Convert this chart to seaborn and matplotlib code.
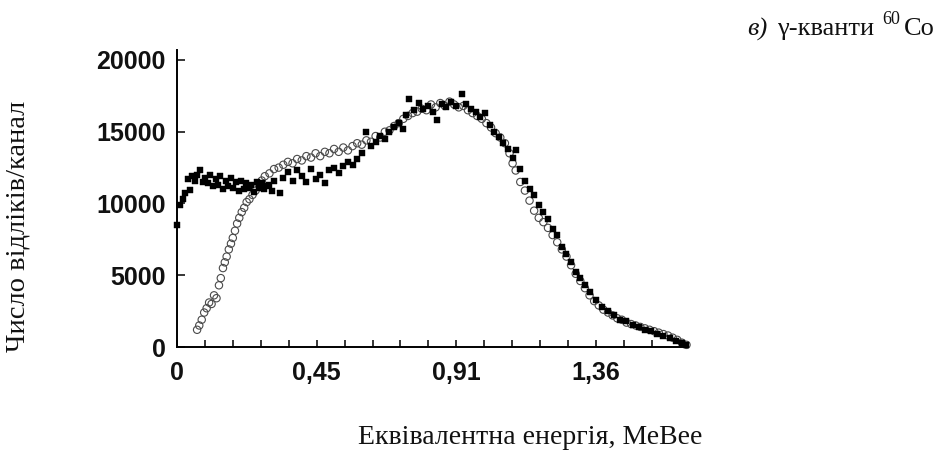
import numpy as np
import pandas as pd
import matplotlib
matplotlib.use('Agg')
import matplotlib.pyplot as plt
import seaborn as sns

# filled squares
sq_x = [0.000, 0.008, 0.018, 0.026, 0.034, 0.042, 0.050, 0.058, 0.066, 0.075,
        0.083, 0.091, 0.100, 0.108, 0.116, 0.125, 0.133, 0.141, 0.150, 0.158,
        0.166, 0.175, 0.183, 0.191, 0.200, 0.208, 0.216, 0.225, 0.233, 0.241,
        0.250, 0.258, 0.266, 0.275, 0.283, 0.291, 0.300, 0.308, 0.316, 0.333,
        0.345, 0.360, 0.375, 0.390, 0.405, 0.420, 0.435, 0.450, 0.465, 0.480,
        0.495, 0.510, 0.525, 0.540, 0.555, 0.570, 0.585, 0.600, 0.615, 0.630,
        0.645, 0.660, 0.675, 0.690, 0.705, 0.720, 0.735, 0.745, 0.755, 0.770,
        0.785, 0.800, 0.815, 0.830, 0.845, 0.860, 0.875, 0.890, 0.905, 0.925,
        0.940, 0.955, 0.970, 0.985, 1.000, 1.015, 1.030, 1.045, 1.060, 1.075,
        1.090, 1.100, 1.115, 1.130, 1.145, 1.160, 1.175, 1.190, 1.205, 1.220,
        1.235, 1.250, 1.265, 1.280, 1.295, 1.310, 1.325, 1.340, 1.360, 1.380,
        1.400, 1.420, 1.440, 1.460, 1.480, 1.500, 1.520, 1.540, 1.560, 1.580,
        1.600, 1.620, 1.640, 1.655]
sq_y = [8500, 9900, 10300, 10700, 11700, 10950, 11900, 11600, 12000, 12300,
        11500, 11800, 11400, 12000, 11200, 11700, 11300, 11900, 11000, 11600,
        11200, 11800, 11100, 11500, 10900, 11600, 11000, 11400, 11100, 11300,
        10800, 11500, 11100, 11400, 11000, 11200, 11300, 10900, 11600, 10700,
        11800, 12200, 11600, 12300, 11900, 11500, 12400, 11700, 12000, 11400,
        12300, 12500, 12100, 12600, 12900, 12700, 13100, 13500, 15000, 14000,
        14300, 14700, 14500, 15000, 15300, 15600, 15200, 16200, 17300, 16500,
        17000, 16600, 16800, 16400, 15800, 16900, 16700, 17100, 16800, 17600,
        16900, 16600, 16400, 16000, 16300, 15500, 15000, 14600, 14200, 13800,
        13200, 13700, 12400, 11600, 11000, 10600, 9900, 9400, 8900, 8200,
        7800, 7000, 6500, 5900, 5200, 4800, 4300, 3800, 3300, 2800,
        2500, 2200, 1900, 1800, 1500, 1400, 1200, 1100, 900, 800,
        600, 400, 250, 150]

# open circles
ci_x = [0.065, 0.072, 0.080, 0.088, 0.096, 0.104, 0.112, 0.120, 0.128, 0.136,
        0.142, 0.149, 0.155, 0.161, 0.168, 0.175, 0.181, 0.188, 0.195, 0.202,
        0.210, 0.218, 0.226, 0.235, 0.245, 0.255, 0.265, 0.275, 0.285, 0.300,
        0.315, 0.330, 0.345, 0.360, 0.375, 0.390, 0.405, 0.420, 0.435, 0.450,
        0.465, 0.480, 0.495, 0.510, 0.525, 0.540, 0.555, 0.570, 0.585, 0.600,
        0.615, 0.630, 0.645, 0.660, 0.675, 0.690, 0.705, 0.720, 0.735, 0.750,
        0.765, 0.780, 0.795, 0.810, 0.825, 0.840, 0.855, 0.870, 0.885, 0.900,
        0.915, 0.930, 0.945, 0.960, 0.975, 0.990, 1.005, 1.020, 1.035, 1.050,
        1.065, 1.080, 1.090, 1.100, 1.115, 1.130, 1.145, 1.160, 1.175, 1.190,
        1.205, 1.220, 1.235, 1.250, 1.265, 1.280, 1.295, 1.310, 1.325, 1.340,
        1.355, 1.370, 1.385, 1.400, 1.415, 1.430, 1.445, 1.460, 1.475, 1.490,
        1.505, 1.520, 1.535, 1.550, 1.565, 1.580, 1.595, 1.610, 1.625, 1.640,
        1.655]
ci_y = [1200, 1500, 1900, 2400, 2700, 3100, 3000, 3600, 3400, 4300,
        4800, 5500, 5900, 6300, 6800, 7200, 7600, 8100, 8600, 9000,
        9400, 9700, 10100, 10300, 10600, 10900, 11300, 11600, 11900, 12100,
        12400, 12500, 12700, 12900, 12800, 13100, 13000, 13300, 13200, 13500,
        13300, 13600, 13500, 13800, 13600, 13900, 13700, 14000, 14200, 14100,
        14400, 14300, 14700, 14600, 15000, 15100, 15400, 15600, 15900, 16100,
        16300, 16400, 16600, 16500, 16900, 16700, 17000, 16800, 17100, 16900,
        16700, 16800, 16500, 16300, 16100, 15900, 15600, 15300, 14900, 14600,
        14200, 13500, 12800, 12300, 11500, 10900, 10200, 9500, 9000, 8700,
        8300, 7800, 7300, 6800, 6300, 5700, 5100, 4600, 4100, 3600,
        3200, 2900, 2600, 2400, 2200, 2000, 1900, 1700, 1600, 1500,
        1400, 1300, 1200, 1100, 1000, 900, 800, 650, 500, 300,
        150]

tick_step = 0.0907
major_labels = ['0', '0,45', '0,91', '1,36']
y_ticks = [0, 5000, 10000, 15000, 20000]

sns.set_theme(style='white')
plt.rcParams['font.family'] = ['Liberation Sans', 'DejaVu Sans']

fig = plt.figure(figsize=(9.42, 4.57), dpi=100)
ax = fig.add_axes([0.188, 0.2407, 0.5424, 0.65])

df_sq = pd.DataFrame({'x': sq_x, 'y': sq_y})
df_ci = pd.DataFrame({'x': ci_x, 'y': ci_y})

sns.scatterplot(data=df_ci, x='x', y='y', ax=ax, marker='o', s=28,
                facecolor='none', edgecolor='#4a4a4a', linewidth=0.8, clip_on=False)
sns.scatterplot(data=df_sq, x='x', y='y', ax=ax, marker='s', s=17,
                color='black', edgecolor='black', linewidth=0.3, clip_on=False)

ax.set_xlim(0, 1.66)
ax.set_ylim(0, 20700)
ax.set_xlabel('')
ax.set_ylabel('')

ax.set_xticks([k * tick_step for k in range(0, 16, 5)])
ax.set_xticklabels(major_labels)
ax.set_xticks([k * tick_step for k in range(1, 18) if k % 5 != 0], minor=True)
ax.set_yticks(y_ticks)
ax.set_yticklabels([str(v) for v in y_ticks])

ax.tick_params(axis='both', which='both', direction='in', color='black',
               labelsize=18, labelcolor='#111111')
ax.tick_params(axis='x', which='both', length=5, width=1.1, pad=10, bottom=True)
ax.tick_params(axis='y', which='major', length=6, width=1.1, pad=8, left=True)
for lab in ax.get_xticklabels() + ax.get_yticklabels():
    lab.set_fontweight('bold')

for side in ['top', 'right']:
    ax.spines[side].set_visible(False)
for side in ['left', 'bottom']:
    ax.spines[side].set_color('black')
    ax.spines[side].set_linewidth(1.4)

serif = ['Liberation Serif', 'DejaVu Serif']
fig.text(0.019, 0.505, 'Число відліків/канал', rotation=90, ha='center', va='center',
         fontsize=20.5, family=serif, color='#111111')
fig.text(0.746, 0.042, 'Еквівалентна енергія, МеВее', ha='right', va='center',
         fontsize=20, family=serif, color='#111111')

# title in the upper right corner
fig.text(0.793, 0.923, 'в)', ha='left', va='baseline', fontsize=19,
         family=serif, style='italic', color='#111111')
fig.text(0.825, 0.923, 'γ-кванти', ha='left', va='baseline', fontsize=19,
         family=serif, color='#111111')
fig.text(0.937, 0.947, '60', ha='left', va='baseline', fontsize=13,
         family=serif, color='#111111')
fig.text(0.959, 0.923, 'Co', ha='left', va='baseline', fontsize=19,
         family=serif, color='#111111')

fig.savefig('out.png', dpi=100, facecolor='white')
